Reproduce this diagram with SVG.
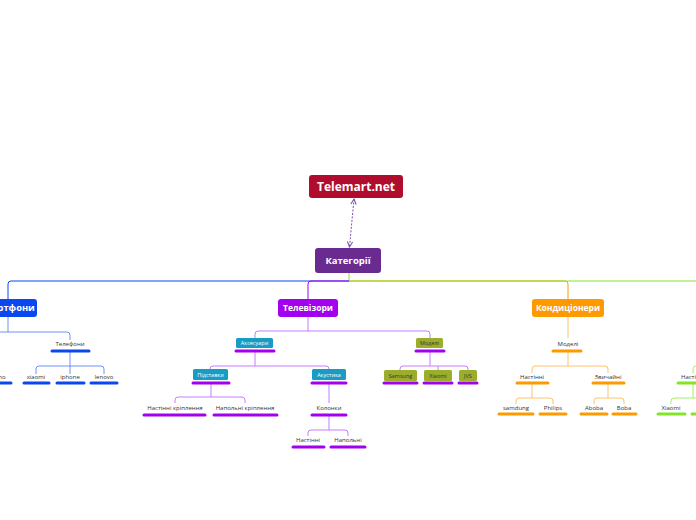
<svg xmlns="http://www.w3.org/2000/svg" width="696" height="520" viewBox="0 0 696 520">
<defs>
<marker id="ah" viewBox="0 0 8 8" refX="7" refY="4" markerWidth="7" markerHeight="7" orient="auto-start-reverse" markerUnits="userSpaceOnUse">
<path d="M1 1 L7 4 L1 7" fill="none" stroke="#7c4fa8" stroke-width="1.2"/>
</marker>
<style>
text{font-family:"Open Sans","DejaVu Sans",sans-serif;text-anchor:middle}
.big{font-weight:700;fill:#fff}
.s{font-size:6px;fill:#333}
.sw{font-size:5.5px;fill:#fff}
.sd{font-size:5.5px;fill:#333}
.ln{fill:none;stroke-width:1}
.bar{stroke-width:3;stroke-linecap:round}
.b{stroke:#0a47ef}.p{stroke:#a300f0}.o{stroke:#fd9a00}.g{stroke:#80e626}
.lb{stroke:#6e92f5}.lp{stroke:#c77dff}.lo{stroke:#ffc266}.lg{stroke:#a6ef66}
.teal{fill:#199cc4}.olive{fill:#9aae2b}
</style>
</defs>
<rect width="696" height="520" fill="#fff"/>
<g id="connectors">
<path class="ln" d="M349 281 H565 Q568 281 568 284 V299" stroke="#fd9a00" stroke-width="1.3"/>
<path class="ln" d="M349 273 V281 H696" stroke="#80e626" stroke-width="1.5"/>
<path class="ln" d="M349 281 H11 Q8 281 8 284 V299" stroke="#0a47ef" stroke-width="1.5"/>
<path class="ln" d="M349 281 H311 Q308 281 308 284 V299" stroke="#a300f0" stroke-width="1.5"/>
<path d="M354 199 L349.5 247" fill="none" stroke="#7c4fa8" stroke-width="1" stroke-dasharray="2 1.5" marker-start="url(#ah)" marker-end="url(#ah)"/>
<path class="ln lb" d="M8 317 V332 M0 332 H67 Q70 332 70 335 V340"/>
<path class="ln lb" d="M70 352 V374 M36 374 V369 Q36 366 39 366 H101 Q104 366 104 369 V374"/>
<path class="ln lp" d="M308 317 V331 M255 338 V334 Q255 331 258 331 H427 Q430 331 430 334 V338"/>
<path class="ln lp" d="M255 352 V366 M210 369 Q210 366 213 366 H326 Q329 366 329 369"/>
<path class="ln lp" d="M430 352 V366 M400 370 V369 Q400 366 403 366 H465 Q468 366 468 369 V370 M438 366 V370"/>
<path class="ln lp" d="M211 384 V397 M175 403 V400 Q175 397 178 397 H242 Q245 397 245 400 V403"/>
<path class="ln lp" d="M329 384 V403"/>
<path class="ln lp" d="M329 416 V430 M308 436 V433 Q308 430 311 430 H345 Q348 430 348 433 V436"/>
<path class="ln lo" d="M568 317 V338"/>
<path class="ln lo" d="M568 352 V366 M532 373 V369 Q532 366 535 366 H605 Q608 366 608 369 V373"/>
<path class="ln lo" d="M532 384 V398 M516 404 V401 Q516 398 519 398 H550 Q553 398 553 401 V404"/>
<path class="ln lo" d="M608 384 V398 M594 404 V401 Q594 398 597 398 H621 Q624 398 624 401 V404"/>
<path class="ln lg" d="M700 366 H696 Q693 366 693 369 V373"/>
<path class="ln lg" d="M693 384 V398 M671 404 V401 Q671 398 674 398 H700"/>
</g>
<g id="n-telemart"><rect x="309" y="175" width="94" height="23" rx="3" fill="#b00d2e"/><text class="big" x="356" y="191" font-size="12">Telemart.net</text></g>
<g id="n-kategorii"><rect x="315" y="248" width="66" height="25" rx="3" fill="#692b8f"/><text class="big" x="348" y="264" font-size="9.5">Категорії</text></g>
<g id="n-smartfony"><rect x="-23" y="299" width="60" height="18" rx="3" fill="#0a47ef"/><text class="big" x="6.5" y="311.4" font-size="9.3">Смартфони</text></g>
<g id="n-telefony"><text class="s" x="70" y="346">Телефони</text><line class="bar b" x1="52" y1="351" x2="89" y2="351"/></g>
<g id="n-no"><text class="s" x="5.5" y="379" style="text-anchor:end">no</text><line class="bar b" x1="-2" y1="383" x2="11" y2="383"/></g>
<g id="n-xiaomi-b"><text class="s" x="36" y="379">xiaomi</text><line class="bar b" x1="24" y1="383" x2="49" y2="383"/></g>
<g id="n-iphone"><text class="s" x="70" y="379">iphone</text><line class="bar b" x1="57" y1="383" x2="84" y2="383"/></g>
<g id="n-lenovo"><text class="s" x="104" y="379">lenovo</text><line class="bar b" x1="91" y1="383" x2="117" y2="383"/></g>
<g id="n-televizory"><rect x="278" y="299" width="60" height="18" rx="3" fill="#a300f0"/><text class="big" x="308" y="311.3" font-size="8.5">Телевізори</text></g>
<g id="n-aksesuary"><rect class="teal" x="236" y="338" width="37" height="10" rx="1.5"/><text class="sw" x="254.5" y="345.2">Аксесуари</text><line class="bar p" x1="236" y1="351" x2="274" y2="351"/></g>
<g id="n-modeli-tv"><rect class="olive" x="416" y="338" width="27" height="10" rx="1.5"/><text class="sd" x="429.5" y="345.2">Моделі</text><line class="bar p" x1="416" y1="351" x2="444" y2="351"/></g>
<g id="n-pidstavky"><rect class="teal" x="193" y="369" width="35" height="11" rx="1.5"/><text class="sw" x="210.5" y="376.7">Підставки</text><line class="bar p" x1="193" y1="383" x2="229" y2="383"/></g>
<g id="n-akustyka"><rect class="teal" x="312" y="369" width="34" height="11" rx="1.5"/><text class="sw" x="329" y="376.7">Акустика</text><line class="bar p" x1="312" y1="383" x2="346" y2="383"/></g>
<g id="n-samsung-tv"><rect class="olive" x="384" y="370" width="33" height="11" rx="1.5"/><text class="sd" x="400.5" y="377.7">Samsung</text><line class="bar p" x1="384" y1="383" x2="417" y2="383"/></g>
<g id="n-xiaomi-tv"><rect class="olive" x="424" y="370" width="28" height="11" rx="1.5"/><text class="sd" x="438" y="377.7">Xiaomi</text><line class="bar p" x1="424" y1="383" x2="452" y2="383"/></g>
<g id="n-jvs"><rect class="olive" x="459" y="370" width="18" height="11" rx="1.5"/><text class="sd" x="468" y="377.7">JVS</text><line class="bar p" x1="459" y1="383" x2="477" y2="383"/></g>
<g id="n-nastinni-kriplennia"><text class="s" x="175" y="410">Настінні кріплення</text><line class="bar p" x1="144" y1="415" x2="205" y2="415"/></g>
<g id="n-napolni-kriplennia"><text class="s" x="245" y="410">Напольні кріплення</text><line class="bar p" x1="214" y1="415" x2="277" y2="415"/></g>
<g id="n-kolonky"><text class="s" x="329" y="410">Колонки</text><line class="bar p" x1="312" y1="415" x2="346" y2="415"/></g>
<g id="n-nastinni-tv"><text class="s" x="308" y="442">Настінні</text><line class="bar p" x1="293" y1="447" x2="324" y2="447"/></g>
<g id="n-napolni-tv"><text class="s" x="348" y="442">Напольні</text><line class="bar p" x1="331" y1="447" x2="365" y2="447"/></g>
<g id="n-kondytsionery"><rect x="532" y="299" width="72" height="18" rx="3" fill="#fd9a00"/><text class="big" x="568" y="311.3" font-size="8.5">Кондиціонери</text></g>
<g id="n-modeli-k"><text class="s" x="568" y="346">Моделі</text><line class="bar o" x1="553" y1="351" x2="581" y2="351"/></g>
<g id="n-nastinni-k"><text class="s" x="532" y="379">Настінні</text><line class="bar o" x1="517" y1="383" x2="548" y2="383"/></g>
<g id="n-zvychaini"><text class="s" x="608" y="379">Звичайні</text><line class="bar o" x1="593" y1="383" x2="624" y2="383"/></g>
<g id="n-samdung"><text class="s" x="516" y="410">samdung</text><line class="bar o" x1="499" y1="414" x2="533" y2="414"/></g>
<g id="n-philips"><text class="s" x="553" y="410">Philips</text><line class="bar o" x1="540" y1="414" x2="566" y2="414"/></g>
<g id="n-aboba"><text class="s" x="594" y="410">Aboba</text><line class="bar o" x1="581" y1="414" x2="607" y2="414"/></g>
<g id="n-boba"><text class="s" x="624" y="410">Boba</text><line class="bar o" x1="613" y1="414" x2="636" y2="414"/></g>
<g id="n-nastinni-g"><text class="s" x="693" y="379">Настінні</text><line class="bar g" x1="678" y1="383" x2="712" y2="383"/></g>
<g id="n-xiaomi-g"><text class="s" x="671" y="410">Xiaomi</text><line class="bar g" x1="658" y1="414" x2="685" y2="414"/></g>
<g id="n-green-2"><line class="bar g" x1="692" y1="414" x2="720" y2="414"/></g>
</svg>
